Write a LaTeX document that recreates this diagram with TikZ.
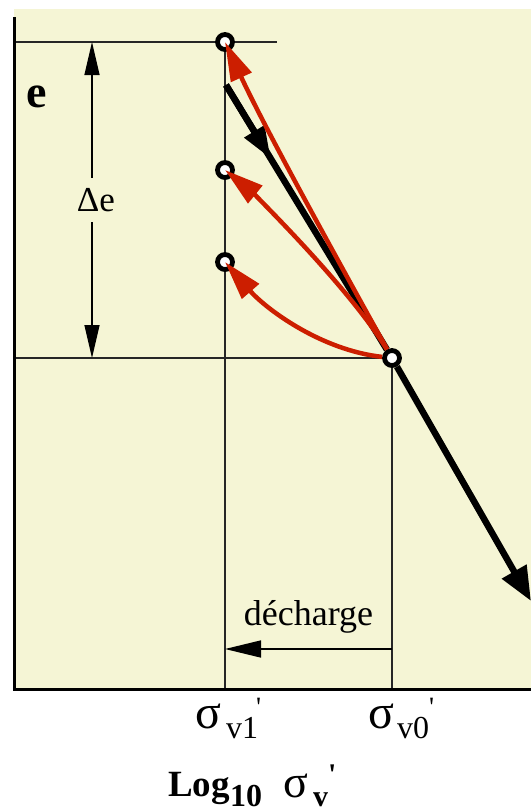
\documentclass[tikz,border=0pt]{standalone}
\usepackage{fontspec}
\setmainfont{Liberation Serif}
\usetikzlibrary{arrows.meta,calc}
\definecolor{bgc}{RGB}{245,245,213}
\definecolor{redc}{RGB}{204,30,0}
\begin{document}
\begin{tikzpicture}[x=1pt,y=-1pt,
  gridl/.style={line width=1.3pt,draw=black!85},
  axisl/.style={line width=3pt,draw=black},
  blk/.style={line width=6.5pt,draw=black},
  redl/.style={line width=4.5pt,draw=redc},
  ptc/.style={circle,draw=black,fill=white,line width=4.8pt,minimum size=15pt,inner sep=0pt},
  lbl/.style={inner sep=0pt,anchor=base west},
  redtip/.style={-{Triangle[length=39pt,width=22pt]}},
]
\useasboundingbox (0,0) rectangle (531,807);
\fill[bgc] (14,9) rectangle (531,689);

% coordinates
\coordinate (Y1) at (14,42);
\coordinate (Y1r) at (277,42);
\coordinate (Y0) at (14,358);
\coordinate (X1) at (225,689);
\coordinate (X0) at (392,689);
\coordinate (B0) at (226,85);
\coordinate (E) at (531,601);
\coordinate (DT) at (92,42);
\coordinate (DB) at (92,358);
\coordinate (D0) at (392,649);
\coordinate (D1) at (225,649);

% points
\node[ptc] (A) at (225,42) {};
\node[ptc] (M) at (225,170) {};
\node[ptc] (L) at (225,262) {};
\node[ptc] (P) at (392,358) {};

% grid lines
\draw[gridl] (Y1) -- (A);
\draw[gridl] (A) -- (Y1r);
\draw[gridl] (Y0) -- (P);
\draw[gridl] (A) -- (M);
\draw[gridl] (M) -- (L);
\draw[gridl] (L) -- (X1);
\draw[gridl] (P) -- (X0);

% axes
\draw[axisl] (14,17) -- (14,689) -- (531,689);

% black loading line
\draw[blk] (B0) -- (P);
\draw[blk,-{Triangle[length=32pt,width=22pt]}] (B0) -- ($(B0)!0.27!(392,358)$);
\draw[blk,-{Triangle[length=34pt,width=27pt]}] (P) -- (E);

% red unloading curves
\draw[redl,redtip] (P) .. controls (322,232) and (262,122) .. (A.center);
\draw[redl,redtip] (P) .. controls (348,285) and (246,187) .. (M.center);
\draw[redl,redtip] (P) .. controls (320,350) and (265,308) .. (L.center);

% delta e
\node[inner sep=0pt,minimum height=44pt] (DL) at (96,200) {\fontsize{35pt}{35pt}\selectfont Δe};
\draw[line width=1.3pt,-{Triangle[length=33pt,width=15pt]}] (DL.north -| DT) -- (DT);
\draw[line width=1.3pt,-{Triangle[length=33pt,width=15pt]}] (DL.south -| DB) -- (DB);

% decharge
\draw[line width=1.6pt,-{Triangle[length=36pt,width=17pt]}] (D0) -- (D1);
\node[inner sep=0pt,anchor=base] (dech) at (308.5,625) {\fontsize{36pt}{36pt}\selectfont décharge};

% e label
\node[inner sep=0pt,anchor=base] (elab) at (37,107) {\fontsize{46pt}{46pt}\selectfont\bfseries e};

% sigma labels
\node[lbl] (s1) at (195,728) {\fontsize{48pt}{48pt}\selectfont σ};
\node[lbl] (s1s) at (226,738) {\fontsize{32pt}{32pt}\selectfont v1};
\node[lbl] (s1p) at (256,716) {\fontsize{28pt}{28pt}\selectfont\textquotesingle};
\node[lbl] (s0) at (368,728) {\fontsize{48pt}{48pt}\selectfont σ};
\node[lbl] (s0s) at (397,738) {\fontsize{32pt}{32pt}\selectfont v0};
\node[lbl] (s0p) at (429,716) {\fontsize{28pt}{28pt}\selectfont\textquotesingle};

% axis title
\node[lbl] (lg) at (168,796) {\fontsize{37pt}{37pt}\selectfont\bfseries Log};
\node[lbl] (lgs) at (230,806) {\fontsize{32pt}{32pt}\selectfont\bfseries 10};
\node[lbl] (ls) at (283,797) {\fontsize{46pt}{46pt}\selectfont σ};
\node[lbl] (lss) at (313,806) {\fontsize{30pt}{30pt}\selectfont\bfseries v};
\node[lbl] (lsp) at (328,784) {\fontsize{30pt}{30pt}\selectfont\bfseries\textquotesingle};
\end{tikzpicture}
\end{document}
